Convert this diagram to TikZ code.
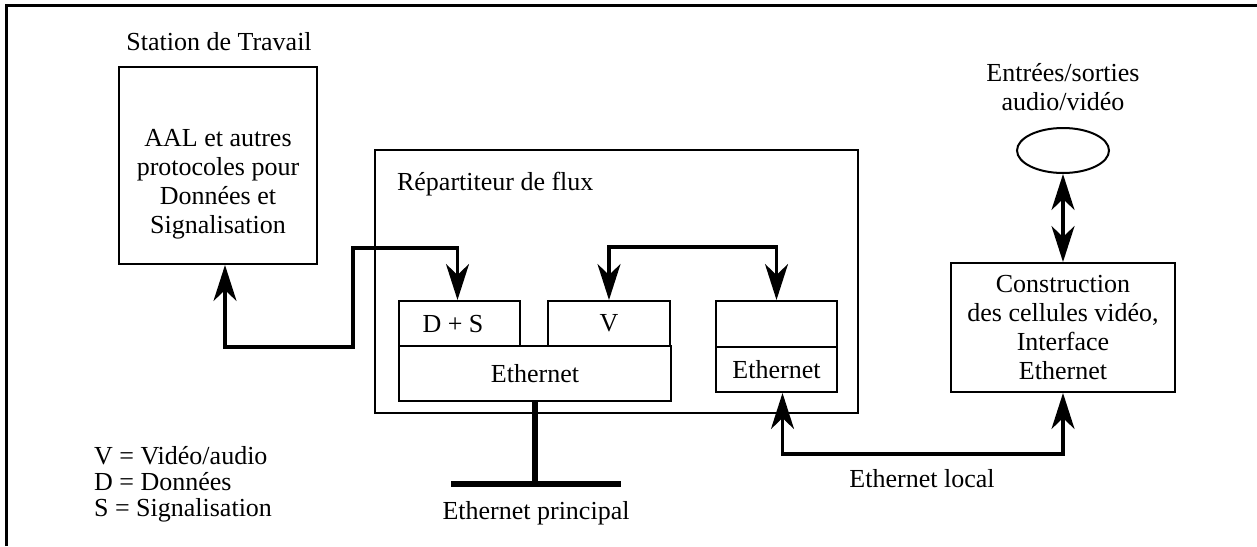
\documentclass[tikz,border=0pt]{standalone}
\usepackage{fontspec}
\setmainfont{Liberation Serif}
\usetikzlibrary{arrows.meta,shapes.geometric,calc}

\begin{document}
\begin{tikzpicture}[x=0.5pt,y=-0.5pt,
    font=\fontsize{13}{14.5}\selectfont,
    box/.style = {draw,line width=1pt,inner sep=0pt},
    link/.style = {line width=1.6pt,{Stealth[length=18pt,width=11.5pt,inset=5.5pt]}-{Stealth[length=18pt,width=11.5pt,inset=5.5pt]}},
    bus/.style = {line width=3pt}]
    \useasboundingbox (0,0) rectangle (1257,546);
    % cadre
    \draw[line width=1.4pt] (6.5,546) -- (6.5,5.5) -- (1257,5.5);

    % station de travail
    \node[anchor=base] (wstitle) at (219,50) {Station de Travail};
    \node[box,minimum width=99pt,minimum height=98.5pt] (ws) at (218,165.5) {};
    \node[align=center] (wstext) at ($(ws.center)+(0,19)$) {AAL et autres\\protocoles pour\\Données et\\Signalisation};

    % repartiteur
    \node[box,minimum width=241.5pt,minimum height=131.5pt] (rep) at (616.5,281.5) {};
    \node[anchor=base west] (reptitle) at (390,190) {Répartiteur de flux};
    \node[box,minimum width=60.5pt,minimum height=22.5pt] (ds) at (459.5,323.5) {};
    \node (dstext) at (453,324) {D + S};
    \node[box,minimum width=61pt,minimum height=22.5pt] (v) at (609,323.5) {V};
    \node[box,minimum width=136pt,minimum height=27.5pt] (eth) at (535,373.5) {Ethernet};
    \node[box,minimum width=60.5pt,minimum height=23pt] (etop) at (776.5,324) {};
    \node[box,minimum width=60.5pt,minimum height=22.5pt] (eloc) at (776.5,369.5) {Ethernet};

    % cote video
    \node[align=center] (avtitle) at (1063,87) {Entrées/sorties\\audio/vidéo};
    \node[draw,ellipse,line width=1pt,minimum width=46pt,minimum height=22.5pt,inner sep=0pt] (av) at (1063,150.5) {};
    \node[box,align=center,minimum width=112pt,minimum height=64.5pt] (cons) at (1063,327.5)
        {Construction\\des cellules vidéo,\\Interface\\Ethernet};

    % liaisons
    \coordinate (j1) at (353,347);
    \coordinate (j2) at (353,248);
    \draw[link] ($(ws.south)+(7,0)$) |- (j1) -- (j2) -| ($(ds.north)+(-2,0)$);
    \draw[link] (v.north) -- ++(0,-53) -| (etop.north);
    \draw[link] ($(eloc.south)+(6,0)$) -- ++(0,61) -| (cons.south);
    \draw[link] (av.south) -- (cons.north);

    % ethernet principal
    \coordinate (busl) at (451,484);
    \coordinate (busr) at (621,484);
    \draw[bus] (eth.south) -- (eth.south |- busl);
    \draw[bus] (busl) -- (busr);
    \node[anchor=base] (principal) at (536,519) {Ethernet principal};
    \node[anchor=base] (local) at (922,487) {Ethernet local};

    % legende
    \node[anchor=base west] (legv) at (87,464) {V = Vidéo/audio};
    \node[anchor=base west] (legd) at (87,490) {D = Données};
    \node[anchor=base west] (legs) at (87,516) {S = Signalisation};
\end{tikzpicture}
\end{document}
